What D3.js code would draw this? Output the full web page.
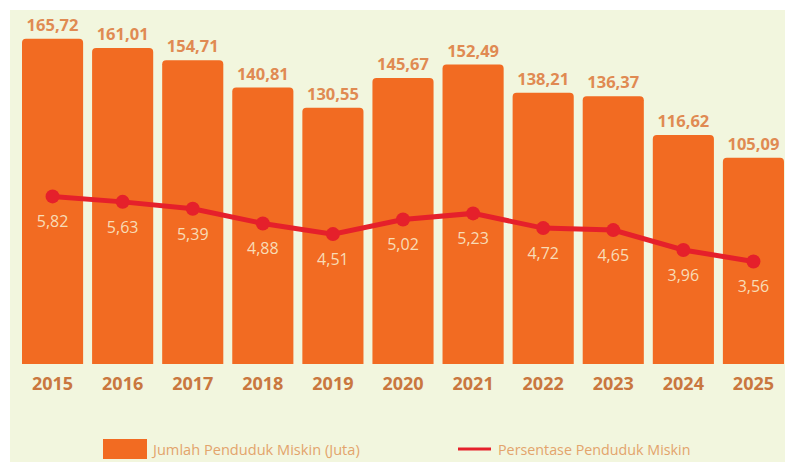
<!DOCTYPE html>
<html>
<head>
<meta charset="utf-8">
<script src="https://cdn.jsdelivr.net/npm/d3@7"></script>
<style>
  body { margin: 0; background: #fff; }
</style>
</head>
<body>
<div id="canvas"></div>
<script>
// data
const years = ["2015", "2016", "2017", "2018", "2019", "2020", "2021", "2022", "2023", "2024", "2025"];
const jumlah = [165.72, 161.01, 154.71, 140.81, 130.55, 145.67, 152.49, 138.21, 136.37, 116.62, 105.09];
const persen = [5.82, 5.63, 5.39, 4.88, 4.51, 5.02, 5.23, 4.72, 4.65, 3.96, 3.56];
const legendLabels = ["Jumlah Penduduk Miskin (Juta)", "Persentase Penduduk Miskin"];

const width = 785, height = 462;
const baseY = 364;
const fmt = v => v.toFixed(2).replace(".", ",");

const svg = d3.select('#canvas').append('svg')
    .attr('width', width)
    .attr('height', height);

// latar
svg.append('rect')
    .attr('x', 10).attr('y', 10)
    .attr('width', width - 10).attr('height', height - 10)
    .attr('fill', '#f2f6de');

let xScale = d3.scaleBand()
    .domain(years)
    .range([22, 784])
    .paddingInner(0.128)
    .paddingOuter(0);

let yBar = d3.scaleLinear()
    .domain([0, 185.4])
    .range([baseY, 0]);

let yLine = d3.scaleLinear()
    .domain([0, 12.64])
    .range([baseY, 0]);

const bw = xScale.bandwidth();
const r = 4;

// batang dengan sudut atas membulat
svg.selectAll('path.bar').data(jumlah)
    .enter().append('path')
    .attr('class', 'bar')
    .attr('fill', '#f26b22')
    .attr('d', function(d, i) {
        const x = xScale(years[i]), y = yBar(d);
        return `M${x},${baseY}V${y + r}Q${x},${y} ${x + r},${y}H${x + bw - r}Q${x + bw},${y} ${x + bw},${y + r}V${baseY}Z`;
    });

// label nilai batang
svg.selectAll('text.val').data(jumlah)
    .enter().append('text')
    .attr('class', 'val')
    .attr('x', (d, i) => xScale(years[i]) + bw / 2)
    .attr('y', d => yBar(d) - 8)
    .attr('text-anchor', 'middle')
    .attr('font-family', 'Open Sans')
    .attr('font-weight', 'bold')
    .attr('font-size', 16.5)
    .attr('fill', '#e08a52')
    .text(d => fmt(d));

// label tahun
svg.selectAll('text.year').data(years)
    .enter().append('text')
    .attr('class', 'year')
    .attr('x', d => xScale(d) + bw / 2)
    .attr('y', 390)
    .attr('text-anchor', 'middle')
    .attr('font-family', 'Open Sans')
    .attr('font-weight', 'bold')
    .attr('font-size', 18)
    .attr('fill', '#c9773f')
    .text(d => d);

// garis persentase
const line = d3.line()
    .x((d, i) => xScale(years[i]) + bw / 2)
    .y(d => yLine(d));

svg.append('path')
    .datum(persen)
    .attr('d', line)
    .attr('fill', 'none')
    .attr('stroke', '#e5202b')
    .attr('stroke-width', 5);

svg.selectAll('circle').data(persen)
    .enter().append('circle')
    .attr('cx', (d, i) => xScale(years[i]) + bw / 2)
    .attr('cy', d => yLine(d))
    .attr('r', 7)
    .attr('fill', '#e5202b');

svg.selectAll('text.pct').data(persen)
    .enter().append('text')
    .attr('class', 'pct')
    .attr('x', (d, i) => xScale(years[i]) + bw / 2)
    .attr('y', d => yLine(d) + 31)
    .attr('text-anchor', 'middle')
    .attr('font-family', 'Open Sans')
    .attr('font-size', 16)
    .attr('fill', '#f8dcb6')
    .text(d => fmt(d));

// legenda
svg.append('rect')
    .attr('x', 103).attr('y', 439)
    .attr('width', 44).attr('height', 20)
    .attr('fill', '#f26b22');
svg.append('text')
    .attr('x', 153).attr('y', 455)
    .attr('font-family', 'Open Sans')
    .attr('font-size', 14.6)
    .attr('fill', '#e3a46c')
    .text(legendLabels[0]);

svg.append('line')
    .attr('x1', 458).attr('x2', 491)
    .attr('y1', 449).attr('y2', 449)
    .attr('stroke', '#e5202b')
    .attr('stroke-width', 3);
svg.append('text')
    .attr('x', 498).attr('y', 455)
    .attr('font-family', 'Open Sans')
    .attr('font-size', 14.3)
    .attr('fill', '#e3a46c')
    .text(legendLabels[1]);
</script>
</body>
</html>
